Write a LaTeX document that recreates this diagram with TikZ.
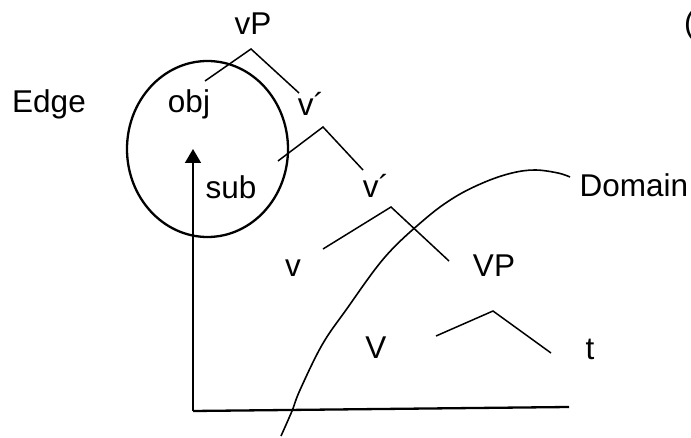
\documentclass[tikz,border=0pt]{standalone}
\usepackage{fontspec}
\setmainfont{Liberation Sans}
\usetikzlibrary{arrows.meta,shapes.geometric}
\begin{document}
\begin{tikzpicture}[x=1pt,y=-1pt,
  lbl/.style={inner sep=0pt,font=\fontsize{31.5}{38}\selectfont},
  branch/.style={line width=1.5pt},
  thick line/.style={line width=2.3pt}]
\useasboundingbox (0,0) rectangle (691,438);
% labels
\node[lbl] (vP) at (253,24) {vP};
\node[lbl] (edge) at (49,104) {Edge};
\node[lbl] (obj) at (189,104) {obj};
\node[lbl] (vbar1) at (311,104) {v´};
\node[lbl] (sub) at (231,187) {sub};
\node[lbl] (vbar2) at (376,186) {v´};
\node[lbl,anchor=west] (domain) at (579.5,185) {Domain};
\node[lbl] (v) at (293,268) {v};
\node[lbl] (VP) at (494,266) {VP};
\node[lbl] (V) at (376,348) {V};
\node[lbl] (t) at (590,349) {t};
\node[lbl,anchor=west] (paren) at (684,25) {(};
% tree branches
\coordinate (a1) at (251,49); \coordinate (l1) at (205,81); \coordinate (r1) at (299,93);
\coordinate (a2) at (323,127); \coordinate (l2) at (278,161); \coordinate (r2) at (363,170);
\coordinate (a3) at (391,207); \coordinate (l3) at (323,249); \coordinate (r3) at (449,261);
\coordinate (a4) at (493,311); \coordinate (l4) at (436,336); \coordinate (r4) at (551,353);
\draw[branch] (l1) -- (a1) -- (r1);
\draw[branch] (l2) -- (a2) -- (r2);
\draw[branch] (l3) -- (a3) -- (r3);
\draw[branch] (l4) -- (a4) -- (r4);
% edge circle
\node[draw,line width=2.3pt,ellipse,minimum width=161pt,minimum height=176pt,inner sep=0pt] (circ) at (207.5,149) {};
% arrow axes
\coordinate (corner) at (193,411);
\coordinate (tip) at (193,149);
\coordinate (hend) at (569,407);
\draw[line width=1.6pt,-{Triangle[width=16pt,length=14pt]}] (corner) -- (tip);
\draw[thick line] (corner) -- (hend);
% domain curve
\coordinate (dstart) at (281,436);
\coordinate (dend) at (570,177);
\draw[line width=1.6pt] plot[smooth,tension=0.6] coordinates {(dstart) (292,411) (300,390) (322,345) (346,310) (385,257) (425,219) (455,197) (485,182) (512,173) (535,170) (558,173) (dend)};
\end{tikzpicture}
\end{document}
